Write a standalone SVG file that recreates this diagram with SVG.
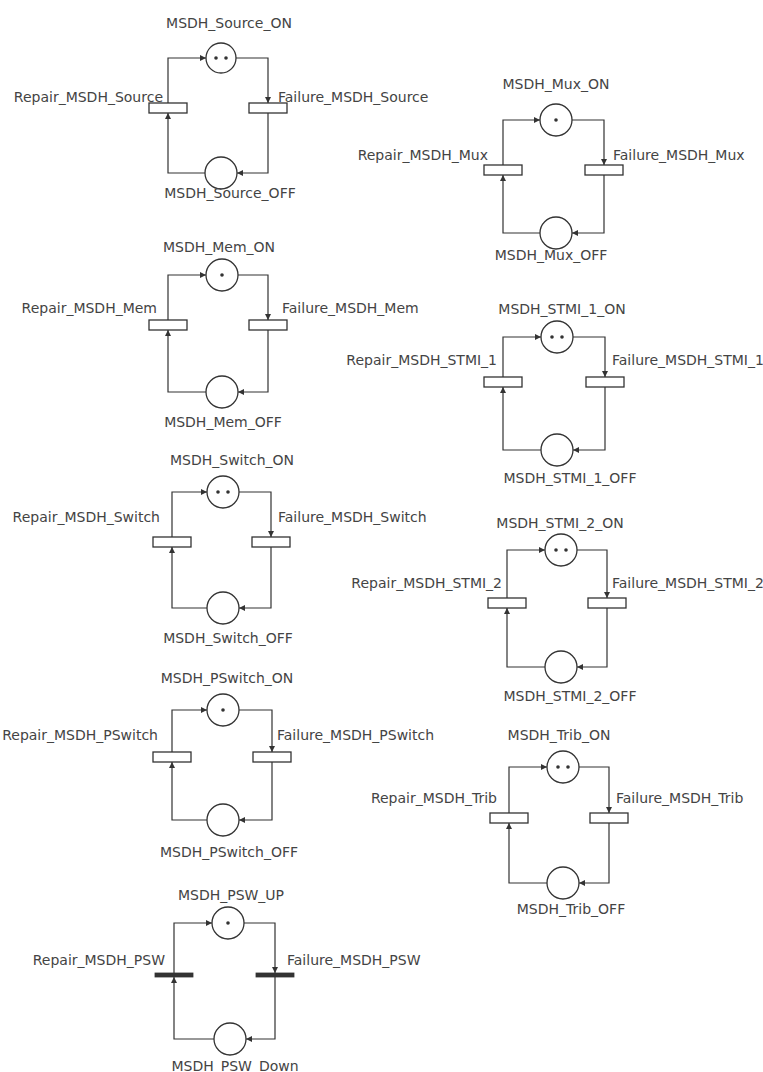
<svg xmlns="http://www.w3.org/2000/svg" width="763" height="1072" viewBox="0 0 763 1072">
<style>
.pl{fill:#fff;stroke:#333;stroke-width:1.3}
.tr{fill:#fff;stroke:#333;stroke-width:1.3}
.tb{fill:#333;stroke:#333;stroke-width:0.8}
.tk{fill:#333}
.arc{fill:none;stroke:#333;stroke-width:1.2;marker-end:url(#ah)}
text{font-family:"DejaVu Sans",sans-serif;font-size:14px;fill:#444}
.m{text-anchor:middle}
.e{text-anchor:end}
</style>
<defs>
<marker id="ah" viewBox="0 0 6 6" refX="6" refY="3" markerWidth="6" markerHeight="6" markerUnits="userSpaceOnUse" orient="auto">
<path d="M0,0 L6,3 L0,6 z" fill="#333"/>
</marker>
</defs>
<rect width="763" height="1072" fill="#fff"/>
<g id="connectors">
<path class="arc" d="M168,103 V58 H206"/>
<path class="arc" d="M236,58 H268 V103"/>
<path class="arc" d="M268,113 V173 H237"/>
<path class="arc" d="M205,173 H168 V113"/>
<path class="arc" d="M503,165 V120 H540"/>
<path class="arc" d="M572,120 H604 V165"/>
<path class="arc" d="M604,175 V233 H572"/>
<path class="arc" d="M540,233 H503 V175"/>
<path class="arc" d="M168,320 V275 H206"/>
<path class="arc" d="M238,275 H268 V320"/>
<path class="arc" d="M268,330 V392 H238"/>
<path class="arc" d="M206,392 H168 V330"/>
<path class="arc" d="M503,377 V337 H541"/>
<path class="arc" d="M573,337 H605 V377"/>
<path class="arc" d="M605,387 V450 H573"/>
<path class="arc" d="M541,450 H503 V387"/>
<path class="arc" d="M172,537 V492 H207"/>
<path class="arc" d="M239,492 H271 V537"/>
<path class="arc" d="M271,547 V608 H239"/>
<path class="arc" d="M207,608 H172 V547"/>
<path class="arc" d="M507,598 V550 H545"/>
<path class="arc" d="M577,550 H607 V598"/>
<path class="arc" d="M607,608 V667 H577"/>
<path class="arc" d="M545,667 H507 V608"/>
<path class="arc" d="M172,752 V710 H207"/>
<path class="arc" d="M239,710 H272 V752"/>
<path class="arc" d="M272,762 V820 H239"/>
<path class="arc" d="M207,820 H172 V762"/>
<path class="arc" d="M509,813 V767 H547"/>
<path class="arc" d="M579,767 H609 V813"/>
<path class="arc" d="M609,823 V883 H579"/>
<path class="arc" d="M547,883 H509 V823"/>
<path class="arc" d="M174,973 V923 H212"/>
<path class="arc" d="M244,923 H275 V973"/>
<path class="arc" d="M275,977 V1039 H246"/>
<path class="arc" d="M214,1039 H174 V977"/>
</g>
<g id="MSDH_Source_ON"><circle class="pl" cx="221" cy="58" r="15"/><circle class="tk" cx="216" cy="58" r="1.8"/><circle class="tk" cx="226" cy="58" r="1.8"/><text class="m" x="229" y="28">MSDH_Source_ON</text></g>
<g id="MSDH_Source_OFF"><circle class="pl" cx="221" cy="173" r="16"/><text class="m" x="230" y="198">MSDH_Source_OFF</text></g>
<g id="Repair_MSDH_Source"><rect class="tr" x="149" y="103" width="38" height="10"/><text class="e" x="163" y="102">Repair_MSDH_Source</text></g>
<g id="Failure_MSDH_Source"><rect class="tr" x="249" y="103" width="38" height="10"/><text x="278" y="102">Failure_MSDH_Source</text></g>
<g id="MSDH_Mux_ON"><circle class="pl" cx="556" cy="120" r="16"/><circle class="tk" cx="556" cy="120" r="1.8"/><text class="m" x="556" y="89">MSDH_Mux_ON</text></g>
<g id="MSDH_Mux_OFF"><circle class="pl" cx="556" cy="233" r="16"/><text class="m" x="551" y="260">MSDH_Mux_OFF</text></g>
<g id="Repair_MSDH_Mux"><rect class="tr" x="484" y="165" width="38" height="10"/><text class="e" x="488" y="160">Repair_MSDH_Mux</text></g>
<g id="Failure_MSDH_Mux"><rect class="tr" x="585" y="165" width="38" height="10"/><text x="613" y="160">Failure_MSDH_Mux</text></g>
<g id="MSDH_Mem_ON"><circle class="pl" cx="222" cy="275" r="16"/><circle class="tk" cx="222" cy="275" r="1.8"/><text class="m" x="219" y="252">MSDH_Mem_ON</text></g>
<g id="MSDH_Mem_OFF"><circle class="pl" cx="222" cy="392" r="16"/><text class="m" x="223" y="427">MSDH_Mem_OFF</text></g>
<g id="Repair_MSDH_Mem"><rect class="tr" x="149" y="320" width="38" height="10"/><text class="e" x="157" y="313">Repair_MSDH_Mem</text></g>
<g id="Failure_MSDH_Mem"><rect class="tr" x="249" y="320" width="38" height="10"/><text x="282" y="313">Failure_MSDH_Mem</text></g>
<g id="MSDH_STMI_1_ON"><circle class="pl" cx="557" cy="337" r="16"/><circle class="tk" cx="552" cy="337" r="1.8"/><circle class="tk" cx="562" cy="337" r="1.8"/><text class="m" x="562" y="314">MSDH_STMI_1_ON</text></g>
<g id="MSDH_STMI_1_OFF"><circle class="pl" cx="557" cy="450" r="16"/><text class="m" x="570" y="483">MSDH_STMI_1_OFF</text></g>
<g id="Repair_MSDH_STMI_1"><rect class="tr" x="484" y="377" width="38" height="10"/><text class="e" x="497" y="365">Repair_MSDH_STMI_1</text></g>
<g id="Failure_MSDH_STMI_1"><rect class="tr" x="586" y="377" width="38" height="10"/><text x="612" y="365">Failure_MSDH_STMI_1</text></g>
<g id="MSDH_Switch_ON"><circle class="pl" cx="223" cy="492" r="16"/><circle class="tk" cx="218" cy="492" r="1.8"/><circle class="tk" cx="228" cy="492" r="1.8"/><text class="m" x="232" y="465">MSDH_Switch_ON</text></g>
<g id="MSDH_Switch_OFF"><circle class="pl" cx="223" cy="608" r="16"/><text class="m" x="228" y="643">MSDH_Switch_OFF</text></g>
<g id="Repair_MSDH_Switch"><rect class="tr" x="153" y="537" width="38" height="10"/><text class="e" x="160" y="522">Repair_MSDH_Switch</text></g>
<g id="Failure_MSDH_Switch"><rect class="tr" x="252" y="537" width="38" height="10"/><text x="278" y="522">Failure_MSDH_Switch</text></g>
<g id="MSDH_STMI_2_ON"><circle class="pl" cx="561" cy="550" r="16"/><circle class="tk" cx="556" cy="550" r="1.8"/><circle class="tk" cx="566" cy="550" r="1.8"/><text class="m" x="560" y="528">MSDH_STMI_2_ON</text></g>
<g id="MSDH_STMI_2_OFF"><circle class="pl" cx="561" cy="667" r="16"/><text class="m" x="570" y="701">MSDH_STMI_2_OFF</text></g>
<g id="Repair_MSDH_STMI_2"><rect class="tr" x="488" y="598" width="38" height="10"/><text class="e" x="502" y="588">Repair_MSDH_STMI_2</text></g>
<g id="Failure_MSDH_STMI_2"><rect class="tr" x="588" y="598" width="38" height="10"/><text x="612" y="588">Failure_MSDH_STMI_2</text></g>
<g id="MSDH_PSwitch_ON"><circle class="pl" cx="223" cy="710" r="16"/><circle class="tk" cx="223" cy="710" r="1.8"/><text class="m" x="227" y="683">MSDH_PSwitch_ON</text></g>
<g id="MSDH_PSwitch_OFF"><circle class="pl" cx="223" cy="820" r="16"/><text class="m" x="229" y="857">MSDH_PSwitch_OFF</text></g>
<g id="Repair_MSDH_PSwitch"><rect class="tr" x="153" y="752" width="38" height="10"/><text class="e" x="158" y="740">Repair_MSDH_PSwitch</text></g>
<g id="Failure_MSDH_PSwitch"><rect class="tr" x="253" y="752" width="38" height="10"/><text x="277" y="740">Failure_MSDH_PSwitch</text></g>
<g id="MSDH_Trib_ON"><circle class="pl" cx="563" cy="767" r="16"/><circle class="tk" cx="558" cy="767" r="1.8"/><circle class="tk" cx="568" cy="767" r="1.8"/><text class="m" x="559" y="740">MSDH_Trib_ON</text></g>
<g id="MSDH_Trib_OFF"><circle class="pl" cx="563" cy="883" r="16"/><text class="m" x="571" y="914">MSDH_Trib_OFF</text></g>
<g id="Repair_MSDH_Trib"><rect class="tr" x="490" y="813" width="38" height="10"/><text class="e" x="497" y="803">Repair_MSDH_Trib</text></g>
<g id="Failure_MSDH_Trib"><rect class="tr" x="590" y="813" width="38" height="10"/><text x="616" y="803">Failure_MSDH_Trib</text></g>
<g id="MSDH_PSW_UP"><circle class="pl" cx="228" cy="923" r="16"/><circle class="tk" cx="228" cy="923" r="1.8"/><text class="m" x="231" y="900">MSDH_PSW_UP</text></g>
<g id="MSDH_PSW_Down"><circle class="pl" cx="230" cy="1039" r="16"/><text class="m" x="235" y="1071">MSDH_PSW_Down</text></g>
<g id="Repair_MSDH_PSW"><rect class="tb" x="155" y="973" width="38" height="4"/><text class="e" x="165" y="965">Repair_MSDH_PSW</text></g>
<g id="Failure_MSDH_PSW"><rect class="tb" x="256" y="973" width="38" height="4"/><text x="287" y="965">Failure_MSDH_PSW</text></g>
</svg>
